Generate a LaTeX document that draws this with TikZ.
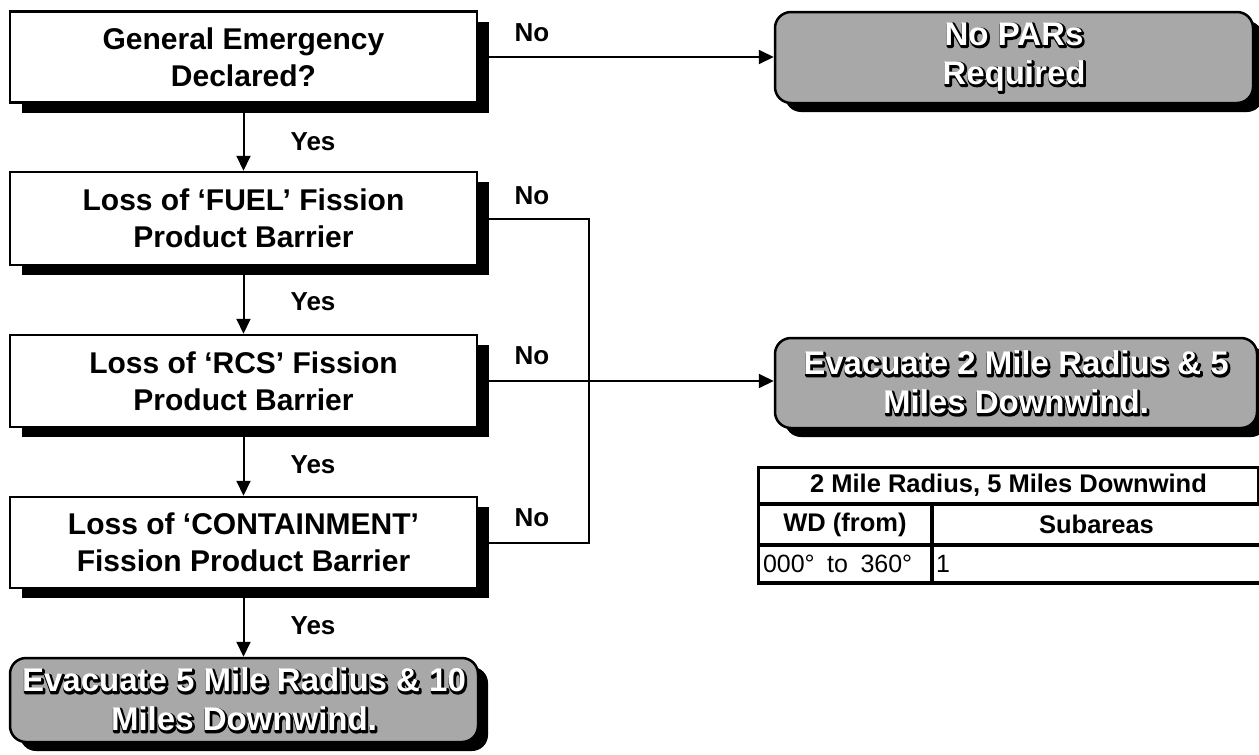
\documentclass[tikz,border=0pt]{standalone}
\usepackage{fontspec}
\setmainfont{Liberation Sans}
\newfontface\outlface{Liberation Sans Bold}[FakeBold=9]
\usetikzlibrary{arrows.meta,shadows}
\newcommand\outl[1]{\special{pdf:literal direct 1 j 1 J}\makebox[0pt][l]{\kern1.2pt\raisebox{-1.2pt}{\outlface\color{black}#1}}{\color{white}#1}}
\tikzset{
  qbox/.style={draw=black, line width=2.5pt, fill=white, minimum width=467pt, minimum height=91pt,
    align=center, inner sep=0pt, font=\fontsize{30}{37}\selectfont\bfseries,
    drop shadow={shadow xshift=12pt, shadow yshift=-10pt, fill=black, opacity=1}},
  gbox/.style={draw=black, line width=2.5pt, fill=black!34, rounded corners=16pt,
    align=center, inner sep=0pt, font=\fontsize{33}{39}\selectfont\bfseries,
    drop shadow={shadow xshift=10pt, shadow yshift=-9pt, fill=black, opacity=1}},
  lbl/.style={font=\fontsize{26}{30}\selectfont\bfseries, inner sep=0pt},
  conn/.style={line width=2pt, draw=black},
  arr/.style={conn, -{Triangle[length=15pt,width=14pt]}},
  cell/.style={draw=black, line width=2pt, inner sep=0pt, anchor=north west},
  hcell/.style={cell, font=\fontsize{25.5}{30}\selectfont\bfseries},
  dcell/.style={cell, font=\fontsize{25}{30}\selectfont}
}
\begin{document}
\begin{tikzpicture}[x=1pt,y=-1pt]
\useasboundingbox (0,0) rectangle (1259,755);
% question boxes
\node[qbox] (ge) at (243.5,57) {General Emergency\\Declared?};
\node[qbox, minimum height=93pt] (fuel) at (243.5,218.5) {Loss of ‘FUEL’ Fission\\Product Barrier};
\node[qbox, minimum height=92pt] (rcs) at (243.5,381) {Loss of ‘RCS’ Fission\\Product Barrier};
\node[qbox] (cont) at (243.5,542.5) {Loss of ‘CONTAINMENT’\\Fission Product Barrier};
% result boxes
\node[gbox, minimum width=468pt, minimum height=84pt] (ev5) at (244,700) {\outl{Evacuate 5 Mile Radius \& 10}\\\outl{Miles Downwind.}};
\node[gbox, minimum width=478pt, minimum height=91pt] (nopar) at (1014,57.5) {\outl{No PARs}\\\outl{Required}};
\node[gbox, minimum width=482pt, minimum height=90pt] (ev2) at (1016,383) {\outl{Evacuate 2 Mile Radius \& 5}\\\outl{Miles Downwind.}};
% labels
\node[lbl] (y1) at (313,142) {Yes};
\node[lbl] (y2) at (313,302) {Yes};
\node[lbl] (y3) at (313,465) {Yes};
\node[lbl] (y4) at (313,626) {Yes};
\node[lbl] (n1) at (532,33) {No};
\node[lbl] (n2) at (532,196) {No};
\node[lbl] (n3) at (532,356) {No};
\node[lbl] (n4) at (532,518) {No};
% connectors
\coordinate (bus) at (589,0);
\draw[arr] (ge.east) -- (ge.east -| nopar.west);
\draw[arr] (ge.south) -- (fuel.north);
\draw[arr] (fuel.south) -- (rcs.north);
\draw[arr] (rcs.south) -- (cont.north);
\draw[arr] (cont.south) -- (ev5.north -| cont.south);
\draw[conn] (fuel.east) -- (fuel.east -| bus) -- (cont.east -| bus) -- (cont.east);
\draw[arr] (rcs.east) -- (rcs.east -| ev2.west);
% table
\node[hcell, minimum width=499pt, minimum height=35pt] (tt) at (758,467) {2 Mile Radius, 5 Miles Downwind};
\node[hcell, minimum width=172pt, minimum height=39pt] (wd) at (tt.south west) {WD (from)};
\node[hcell, minimum width=327pt, minimum height=39pt] (sa) at (wd.north east) {Subareas};
\node[dcell, minimum height=36pt, text width=164pt, inner xsep=4pt, align=left] (dg) at (wd.south west) {000° \,to\, 360°};
\node[dcell, minimum height=36pt, text width=321pt, inner xsep=3pt, align=left] (s1) at (dg.north east) {1};
\draw[line width=3pt] (tt.north west) rectangle (s1.south east);
\end{tikzpicture}
\end{document}
